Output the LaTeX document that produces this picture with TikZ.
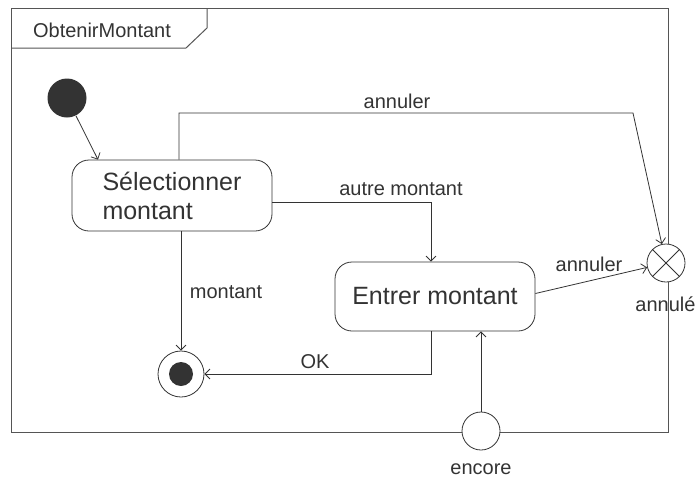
\documentclass[tikz,border=0pt]{standalone}
\usepackage{fontspec}
\setmainfont{Liberation Sans}
\usetikzlibrary{arrows.meta}
\definecolor{ink}{HTML}{333333}
\definecolor{rim}{HTML}{555555}

\begin{document}
\begin{tikzpicture}[x=1pt, y=-1pt, line width=0.8pt, draw=ink, text=ink,
    >={Straight Barb[length=5pt,width=10pt]},
    font=\fontsize{20}{24}\selectfont]
  \tikzstyle{state}=[rectangle, rounded corners=17pt, draw=ink, fill=white,
    minimum width=200pt, font=\fontsize{25}{29}\selectfont]
  \tikzstyle{pseudo}=[circle, draw=ink, fill=white, inner sep=0pt, minimum size=38pt]
  \tikzstyle{lbl}=[inner sep=0pt]

  \useasboundingbox (0,0) rectangle (697,480);

  \draw[rim, line width=1pt] (11,8) rectangle (668,432);
  \draw[rim, line width=1pt] (11,48) -- (186,48) -- (207,28) -- (207,8);
  \node[lbl] (titre) at (102,30) {ObtenirMontant};

  \path
    (67,98)    node[circle, fill=ink, minimum size=39pt, inner sep=0pt] (init) {}
    (172,195.5) node[state, minimum height=71pt, align=left] (sel) {Sélectionner\\montant}
    (435,296.5) node[state, minimum height=69pt] (entrer) {Entrer montant}
    (181,374)  node[circle, draw=ink, minimum size=46pt, inner sep=0pt] (fin) {}
    (666,263)  node[pseudo] (ex) {}
    (481,431)  node[pseudo] (enc) {};
  \fill[ink] (fin.center) circle (12);
  \draw (ex.45) -- (ex.225) (ex.135) -- (ex.315);
  \coordinate (k1) at (633,113);

  \draw[->] (init) -- ([xshift=-74]sel.north);
  \draw[->] ([xshift=7]sel.north) |- (k1) -- (ex);
  \draw[->] ([yshift=-7]sel.east) -| ([xshift=-4]entrer.north);
  \draw[->] ([xshift=9]sel.south) -- (fin);
  \draw[->] ([xshift=-4]entrer.south) |- (fin);
  \draw[->] ([yshift=3]entrer.east) -- (ex);
  \draw[->] (enc) -- (enc |- entrer.south);

  \node[lbl] (l1) at (397,101) {annuler};
  \node[lbl] (l2) at (401,189) {autre montant};
  \node[lbl] (l3) at (226,292) {montant};
  \node[lbl] (l4) at (315,362) {OK};
  \node[lbl] (l5) at (589,264) {annuler};
  \node[lbl, anchor=west] (l6) at (635,304) {annulé};
  \node[lbl] (l7) at (481,469) {encore};
\end{tikzpicture}
\end{document}
